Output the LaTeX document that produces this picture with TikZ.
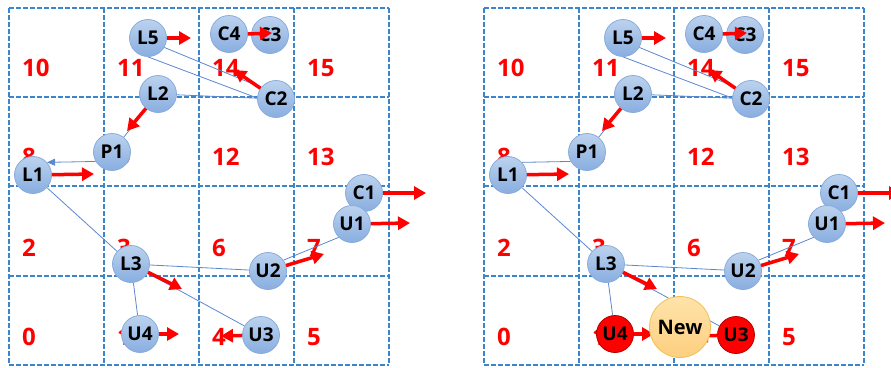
\documentclass[tikz,border=0pt]{standalone}
\usepackage{fontspec}
\setmainfont{Open Sans}
\usetikzlibrary{arrows.meta}
\pgfdeclarelayer{bg}
\pgfsetlayers{bg,main}

\definecolor{gridblue}{HTML}{3A86CC}
\definecolor{numred}{HTML}{FF0000}
\definecolor{linkblue}{HTML}{5B87D0}
\definecolor{balltop}{HTML}{BCD2EE}
\definecolor{ballbot}{HTML}{88AEE0}
\definecolor{ballrim}{HTML}{8AACDC}
\definecolor{hotrim}{HTML}{B00000}
\definecolor{newtop}{HTML}{FFE3AA}
\definecolor{newbot}{HTML}{FDCF80}
\definecolor{newrim}{HTML}{F5BF55}

\tikzset{
  cell/.style={gridblue, line width=1.5pt, dash pattern=on 4.5pt off 2.5pt},
  cellnum/.style={anchor=west, inner sep=0pt, text=numred,
    font=\fontsize{24}{24}\selectfont\bfseries},
  station/.style={circle, minimum size=37pt, inner sep=0pt, draw=ballrim,
    line width=0.8pt, top color=balltop, bottom color=ballbot,
    font=\fontsize{19}{19}\selectfont\bfseries},
  hotstation/.style={station, draw=hotrim, top color=red, bottom color=red},
  newstation/.style={circle, minimum size=61pt, inner sep=0pt, draw=newrim,
    line width=0.8pt, top color=newtop, bottom color=newbot,
    font=\fontsize{20}{20}\selectfont\bfseries},
  link/.style={linkblue, line width=0.8pt},
  backlink/.style={link, -{Triangle[length=8pt,width=7pt]}},
  move/.style={red, line width=3.5pt, -{Triangle[length=12pt,width=13pt]}},
}

% One panel of the 4x4 cell map: #1 name prefix, #2 shift,
% #3 style of U3/U4, #4 style of the P1-L1 link
\newcommand\drawpanel[4]{%
\begin{scope}[xshift=#2]
  % stations
  \node[station] (#1C1) at (364,193) {C1};
  \node[station] (#1U1) at (352,224) {U1};
  \node[station] (#1L5) at (148,38) {L5};
  \node[station] (#1C4) at (229,34) {C4};
  \node[station] (#1C3) at (270,35) {C3};
  \node[station] (#1L2) at (158,94) {L2};
  \node[station] (#1C2) at (276,99) {C2};
  \node[station] (#1P1) at (112,152) {P1};
  \node[station] (#1L1) at (33,175) {L1};
  \node[station] (#1L3) at (131,264) {L3};
  \node[station] (#1U2) at (268,271) {U2};
  \node[#3] (#1U4) at (140,334) {U4};
  \node[#3] (#1U3) at (261,335) {U3};
  \begin{pgfonlayer}{bg}
    % cell numbers
    \foreach \n/\cx/\cy in {10/0/68, 11/1/68, 14/2/68, 15/3/68,
                            8/0/157, 9/1/157, 12/2/157, 13/3/157,
                            2/0/248, 3/1/248, 6/2/248, 7/3/248,
                            0/0/337, 1/1/337, 4/2/337, 5/3/337}
      \node[cellnum] (#1n\n) at ({22+95*\cx},\cy) {\n};
    % dashed cell grid
    \foreach \gx in {9,104,199,294,389}
      \draw[cell] (\gx,8) -- (\gx,365);
    \foreach \gy in {8,97,186,276,365}
      \draw[cell] (9,\gy) -- (389,\gy);
    % links between stations
    \draw[link] (#1L5.-90) -- (#1C2.177);
    \draw[link] (#1L5.-30) -- (#1C2.142);
    \draw[link] (#1L2) -- (#1C2);
    \draw[link] (#1L2) -- (#1P1);
    \draw[#4] (#1P1.210) -- (#1L1.42);
    \draw[link] (#1L1) -- (#1L3);
    \draw[link] (#1L3) -- (#1U2);
    \draw[link] (#1L3) -- (#1U4);
    \draw[link] (#1L3) -- (#1U3);
    \draw[link] (#1U2.35) -- (#1U1.225);
  \end{pgfonlayer}
  % movement arrows
  \coordinate (#1L5t) at (191,38);
  \coordinate (#1C4t) at (272,33);
  \coordinate (#1C2t) at (234,70);
  \coordinate (#1L2t) at (127,131);
  \coordinate (#1L1t) at (94,174);
  \coordinate (#1C1t) at (426,193);
  \coordinate (#1U1t) at (410,223);
  \coordinate (#1U2t) at (324,254);
  \coordinate (#1L3t) at (182,289);
  \coordinate (#1U4t) at (179,334);
  \coordinate (#1U3t) at (221,336);
  \draw[move] (#1L5) -- (#1L5t);
  \draw[move] (#1C4.east) -- (#1C4t);
  \draw[move] (#1C2) -- (#1C2t);
  \draw[move] (#1L2) -- (#1L2t);
  \draw[move] (#1L1) -- (#1L1t);
  \draw[move] (#1C1) -- (#1C1t);
  \draw[move] (#1U1) -- (#1U1t);
  \draw[move] (#1U2) -- (#1U2t);
  \draw[move] (#1L3) -- (#1L3t);
  \draw[move] (#1U4) -- (#1U4t);
  \draw[move] (#1U3) -- (#1U3t);
\end{scope}}

\begin{document}
\begin{tikzpicture}[x=1pt, y=-1pt]
  \useasboundingbox (0,0) rectangle (891,367);
  \drawpanel{a}{0pt}{station}{backlink}
  \drawpanel{b}{475pt}{hotstation}{link}
  \node[newstation] (bNew) at (680,327) {New};
\end{tikzpicture}
\end{document}
